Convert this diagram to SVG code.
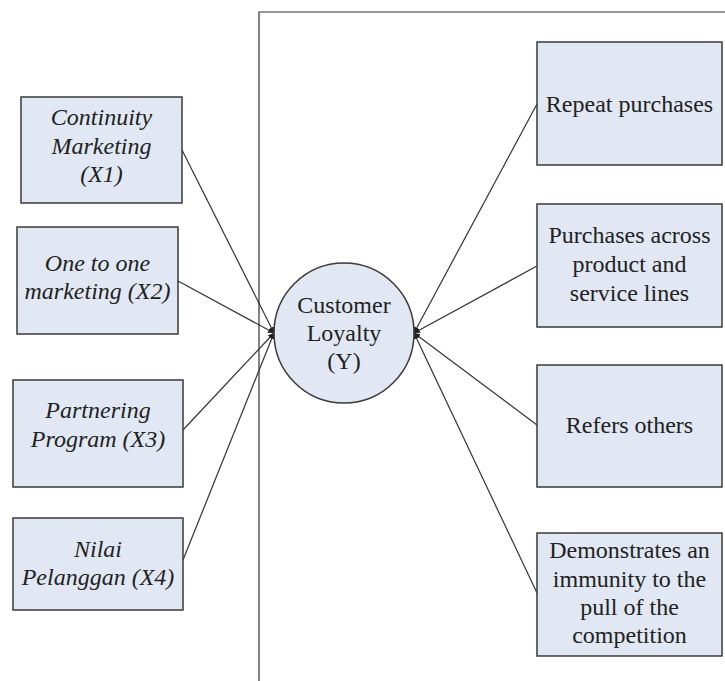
<svg xmlns="http://www.w3.org/2000/svg" width="725" height="681" viewBox="0 0 725 681">
<defs>
<style>
.box{fill:#e1e8f3;stroke:#3a3a3a;stroke-width:1.5}
.t{font-family:"Liberation Serif","Times New Roman",serif;font-size:24px;fill:#222;text-anchor:middle}
.i{font-style:italic}
.c{stroke:#333;stroke-width:1.2;fill:none}
</style>
<marker id="ah" viewBox="0 0 10 10" refX="10" refY="5" markerWidth="6" markerHeight="6" orient="auto" markerUnits="userSpaceOnUse">
<path d="M0,0 L10,5 L0,10 z" fill="#222"/>
</marker>
</defs>
<rect width="725" height="681" fill="#fff"/>
<g id="frame">
<path d="M259,681 L259,12 L725,12" class="c" stroke-width="1.5"/>
</g>
<g id="connectors">
<line class="c" x1="182" y1="150" x2="274" y2="333" marker-end="url(#ah)"/>
<line class="c" x1="178" y1="281" x2="274" y2="333" marker-end="url(#ah)"/>
<line class="c" x1="183" y1="430" x2="274" y2="333" marker-end="url(#ah)"/>
<line class="c" x1="183" y1="560" x2="274" y2="333" marker-end="url(#ah)"/>
<line class="c" x1="537" y1="104" x2="414" y2="333" marker-end="url(#ah)"/>
<line class="c" x1="537" y1="266" x2="414" y2="333" marker-end="url(#ah)"/>
<line class="c" x1="537" y1="425" x2="414" y2="333" marker-end="url(#ah)"/>
<line class="c" x1="537" y1="593" x2="414" y2="333" marker-end="url(#ah)"/>
</g>
<g id="x1">
<rect class="box" x="21" y="97" width="161" height="106"/>
<text class="t i" x="101.5" y="125">Continuity</text>
<text class="t i" x="101.5" y="154">Marketing</text>
<text class="t i" x="101.5" y="182">(X1)</text>
</g>
<g id="x2">
<rect class="box" x="17" y="227" width="161" height="107"/>
<text class="t i" x="97.5" y="271">One to one</text>
<text class="t i" x="97.5" y="299">marketing (X2)</text>
</g>
<g id="x3">
<rect class="box" x="13" y="380" width="170" height="107"/>
<text class="t i" x="98" y="418">Partnering</text>
<text class="t i" x="98" y="447">Program (X3)</text>
</g>
<g id="x4">
<rect class="box" x="13" y="518" width="170" height="92"/>
<text class="t i" x="98" y="557">Nilai</text>
<text class="t i" x="98" y="585">Pelanggan (X4)</text>
</g>
<g id="y">
<circle class="box" cx="344" cy="333" r="70"/>
<text class="t" x="344" y="313">Customer</text>
<text class="t" x="344" y="341">Loyalty</text>
<text class="t" x="344" y="369">(Y)</text>
</g>
<g id="r1">
<rect class="box" x="537" y="42" width="185" height="123"/>
<text class="t" x="629.5" y="112">Repeat purchases</text>
</g>
<g id="r2">
<rect class="box" x="537" y="204" width="185" height="123"/>
<text class="t" x="629.5" y="243">Purchases across</text>
<text class="t" x="629.5" y="272">product and</text>
<text class="t" x="629.5" y="301">service lines</text>
</g>
<g id="r3">
<rect class="box" x="537" y="365" width="185" height="122"/>
<text class="t" x="629.5" y="433">Refers others</text>
</g>
<g id="r4">
<rect class="box" x="537" y="533" width="185" height="123"/>
<text class="t" x="629.5" y="558">Demonstrates an</text>
<text class="t" x="629.5" y="587">immunity to the</text>
<text class="t" x="629.5" y="615">pull of the</text>
<text class="t" x="629.5" y="643">competition</text>
</g>
</svg>
